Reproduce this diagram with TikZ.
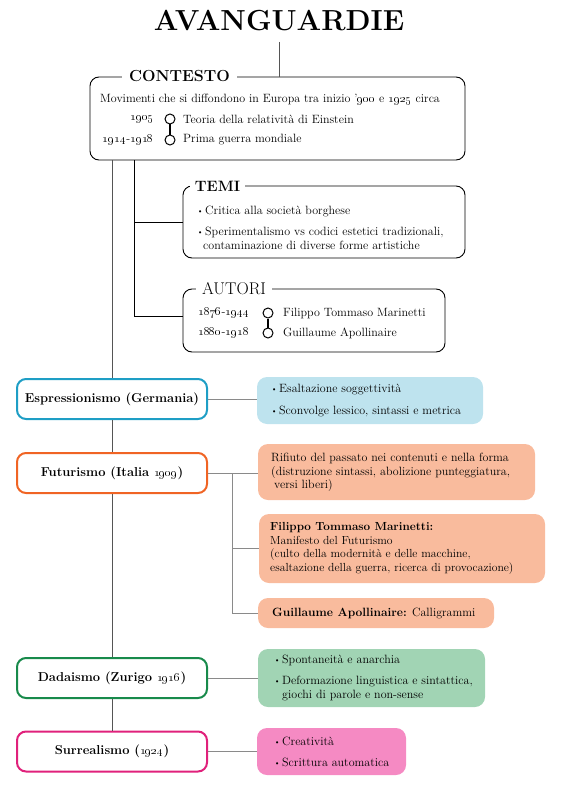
\documentclass[tikz,border=0pt]{standalone}
\usetikzlibrary{positioning}
\definecolor{cblue}{HTML}{1E9EC5}
\definecolor{fblue}{HTML}{BEE3EE}
\definecolor{corange}{HTML}{F06424}
\definecolor{forange}{HTML}{F9BB9D}
\definecolor{cgreen}{HTML}{188A4B}
\definecolor{fgreen}{HTML}{A1D4B4}
\definecolor{cpink}{HTML}{E0217B}
\definecolor{fpink}{HTML}{F58AC3}
\definecolor{linkgray}{HTML}{8A8A8A}
\definecolor{spinegray}{HTML}{555555}
\newcommand\os[1]{\oldstylenums{#1}}
\newcommand\bul{\makebox[8pt][l]{\raisebox{1pt}{\fontsize{7.5}{7.5}\selectfont\textbullet}}}
\begin{document}
\begin{tikzpicture}[x=1pt,y=-1pt,
  txt/.style={font=\fontsize{12}{13.5}\selectfont, inner sep=0pt, align=left, anchor=west},
  framebox/.style={draw=black, line width=0.9pt, rounded corners=9pt, fill=white, inner sep=0pt},
  hdr/.style={fill=white, inner xsep=7pt, inner ysep=1pt},
  mov/.style={draw, line width=2pt, rounded corners=9pt, fill=white, minimum width=190pt, minimum height=40pt, font=\fontsize{12.9}{14}\selectfont\bfseries, inner sep=0pt},
  rbox/.style={rounded corners=10pt, inner sep=0pt},
  tldot/.style={circle, draw, line width=1pt, minimum size=10pt, inner sep=0pt},
  linkline/.style={draw=linkgray, line width=1pt},
  spine/.style={draw=spinegray, line width=0.9pt}
]
\useasboundingbox (0,0) rectangle (568,789);

% title
\node[font=\fontsize{29}{29}\selectfont\bfseries, inner sep=0pt] (title) at (279,20.5) {AVANGUARDIE};
\coordinate (ttop) at (279,42);

% contesto
\node[framebox, minimum width=375pt, minimum height=83pt] (ctx) at (277.5,118.5) {};
\draw[spine] (ttop) -- (ttop |- ctx.north);
\node[hdr, font=\fontsize{16}{16}\selectfont\bfseries] (ctxh) at (179.5,76.5) {CONTESTO};
\node[txt] (ctx1) at (100,99) {Movimenti che si diffondono in Europa tra inizio ’\os{900} e \os{1925} circa};
\node[txt, anchor=east] (y1905) at (154,119) {\os{1905}};
\node[txt, anchor=east] (y1914) at (154,140) {\os{1914}-\os{1918}};
\node[tldot] (d1) at (170,119) {};
\node[tldot] (d2) at (170,140) {};
\draw[line width=2.6pt] (d1.south) -- (d2.north);
\node[txt] (e1) at (183,119) {Teoria della relatività di Einstein};
\node[txt] (e2) at (183,140) {Prima guerra mondiale};

% temi
\node[framebox, minimum width=282pt, minimum height=72pt] (temi) at (324,222) {};
\node[hdr, font=\fontsize{15}{15}\selectfont\bfseries, inner xsep=5pt] (temih) at (217.5,186) {TEMI};
\node[txt] (temit) at (197,228) {\bul Critica alla società borghese\\[7.5pt]\bul Sperimentalismo vs codici estetici tradizionali,\\\hspace*{6pt}contaminazione di diverse forme artistiche};

% autori
\node[framebox, minimum width=262pt, minimum height=63pt] (aut) at (314,320.5) {};
\node[hdr, font=\fontsize{17}{17}\selectfont, inner xsep=6pt] (auth) at (234,289) {AUTORI};
\node[txt] (ya) at (198,313) {\os{1876}-\os{1944}};
\node[txt] (yb) at (198,333) {\os{1880}-\os{1918}};
\node[tldot] (d3) at (268,313) {};
\node[tldot] (d4) at (268,333) {};
\draw[line width=2.6pt] (d3.south) -- (d4.north);
\node[txt] (aa) at (283,313) {Filippo Tommaso Marinetti};
\node[txt] (ab) at (283,333) {Guillaume Apollinaire};

% branch to temi / autori
\coordinate (bx) at (134,0);
\draw[line width=1pt] (ctx.south -| bx) |- (temi.west);
\draw[line width=1pt] (ctx.south -| bx) |- ([yshift=4.5pt]aut.west);

% movements
\node[mov, draw=cblue] (espr) at (112,399) {Espressionismo (Germania)};
\node[mov, draw=corange] (fut) at (112,473) {Futurismo (Italia \os{1909})};
\node[mov, draw=cgreen] (dada) at (112,678) {Dadaismo (Zurigo \os{1916})};
\node[mov, draw=cpink] (surr) at (112,751.5) {Surrealismo (\os{1924})};

% spine
\draw[spine] (ctx.south -| espr.north) -- (espr.north);
\draw[spine] (espr.south) -- (fut.north);
\draw[spine] (fut.south) -- (dada.north);
\draw[spine] (dada.south) -- (surr.north);

% right boxes
\node[rbox, fill=fblue, minimum width=226pt, minimum height=47pt] (blue) at (370,400.5) {};
\node[txt] (bluet) at (271,400.5) {\bul Esaltazione soggettività\\[8.5pt]\bul Sconvolge lessico, sintassi e metrica};

\node[rbox, fill=forange, minimum width=277pt, minimum height=56pt] (or1) at (396.5,472) {};
\node[txt] (or1t) at (271,472.5) {Rifiuto del passato nei contenuti e nella forma\\(distruzione sintassi, abolizione punteggiatura,\\\hspace*{3pt}versi liberi)};

\node[rbox, fill=forange, minimum width=286pt, minimum height=69pt] (or2) at (402,548.5) {};
\node[txt, font=\fontsize{11.7}{13.5}\selectfont] (or2t) at (270,548.5) {\textbf{Filippo Tommaso Marinetti:}\\Manifesto del Futurismo\\(culto della modernità e delle macchine,\\esaltazione della guerra, ricerca di provocazione)};

\node[rbox, fill=forange, minimum width=236pt, minimum height=30pt] (or3) at (376,613) {};
\node[txt] (or3t) at (272,613) {\textbf{Guillaume Apollinaire:} Calligrammi};

\node[rbox, fill=fgreen, minimum width=227pt, minimum height=58pt] (green) at (371.5,678) {};
\node[txt] (greent) at (274,678) {\bul Spontaneità e anarchia\\[7.5pt]\bul Deformazione linguistica e sintattica,\\\hspace*{8pt}giochi di parole e non-sense};

\node[rbox, fill=fpink, minimum width=149pt, minimum height=47pt] (pink) at (331.5,751.5) {};
\node[txt] (pinkt) at (274,752) {\bul Creatività\\[7.5pt]\bul Scrittura automatica};

% connectors
\coordinate (fx) at (232,0);
\draw[linkline] (espr.east) -- (espr.east -| blue.west);
\draw[linkline] (fut.east) -- (fut.east -| or1.west);
\draw[linkline] (fut.east -| fx) |- (or2.west);
\draw[linkline] (fut.east -| fx) |- (or3.west);
\draw[linkline] (dada.east) -- (dada.east -| green.west);
\draw[linkline] (surr.east) -- (surr.east -| pink.west);
\end{tikzpicture}
\end{document}
